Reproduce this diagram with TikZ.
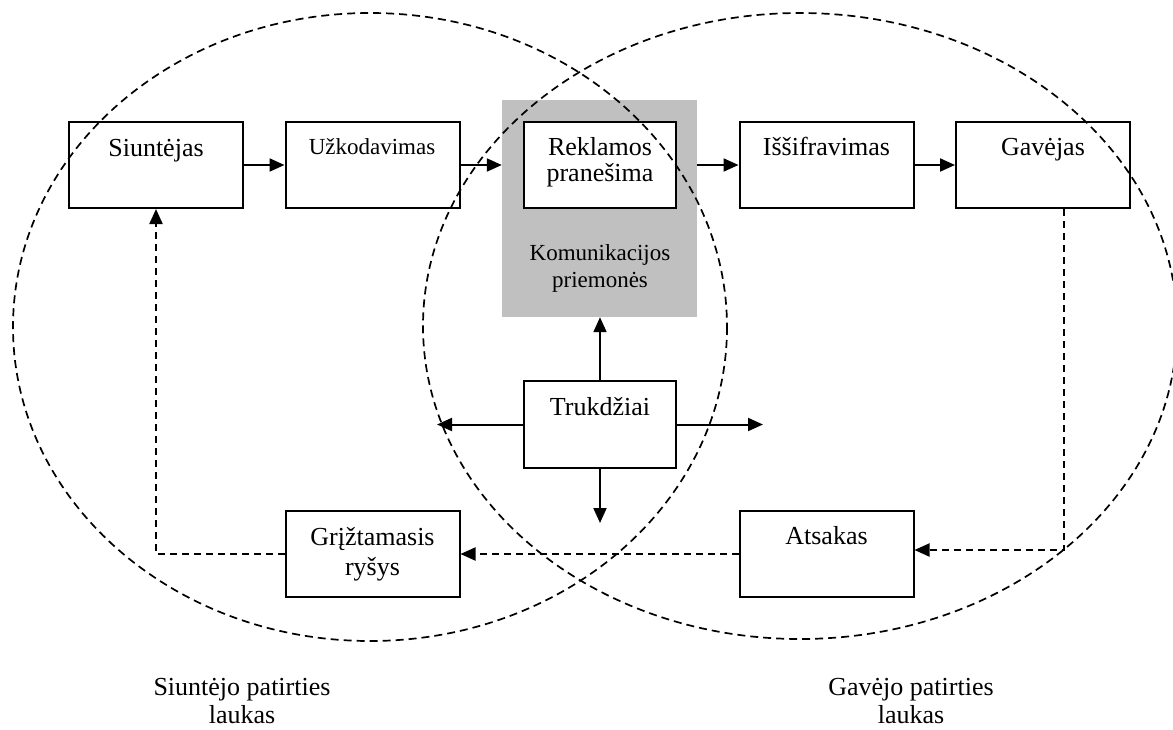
\documentclass[tikz,border=0pt]{standalone}
\usepackage{fontspec}
\setmainfont{Liberation Serif}
\usetikzlibrary{arrows.meta,calc}
\definecolor{mediagray}{RGB}{192,192,192}
\tikzset{
  box/.style={draw, line width=2pt, fill=white, minimum width=174pt,
    minimum height=86pt, inner sep=0pt},
  lbl/.style={anchor=base, inner sep=0pt, align=center,
    font=\fontsize{26}{26}\selectfont},
  lblsmall/.style={lbl, font=\fontsize{23}{27}\selectfont},
  flow/.style={line width=2pt, -{Triangle[length=15pt,width=13pt]}},
  back/.style={flow, dash pattern=on 7pt off 5pt},
  field/.style={line width=1.7pt, dash pattern=on 8pt off 5pt},
}
\begin{document}
\begin{tikzpicture}[x=1pt,y=-1pt]
\useasboundingbox (0,0) rectangle (1173,729);

% communication medium block
\node[fill=mediagray, minimum width=195pt, minimum height=217pt, inner sep=0pt]
  (m) at (599.5,208.5) {};

% boxes
\node[box] (s) at (156,165) {};
\node[box] (u) at (372.5,165) {};
\node[box, minimum width=152pt] (r) at (600,165) {};
\node[box] (i) at (826.5,165) {};
\node[box] (g) at (1043,165) {};
\node[box, minimum width=152pt, minimum height=87pt] (t) at (600,424.5) {};
\node[box] (f) at (372.5,554) {};
\node[box] (a) at (826.5,554) {};

% labels (multi-line labels sit on the baseline of their last line)
\node[lbl] (sl) at (156,156) {Siuntėjas};
\node[lblsmall] (ul) at (372,154) {Užkodavimas};
\node[lbl] (rl) at (600,181) {Reklamos\\pranešima};
\node[lblsmall] (ml) at (600,287) {Komunikacijos\\priemonės};
\node[lbl] (il) at (826.5,155) {Iššifravimas};
\node[lbl] (gl) at (1043,155) {Gavėjas};
\node[lbl] (tl) at (600,415) {Trukdžiai};
\node[lbl, font=\fontsize{26}{30}\selectfont] (fl) at (372.5,575) {Grįžtamasis\\ryšys};
\node[lbl] (al) at (826.5,544) {Atsakas};
\node[lbl, font=\fontsize{26}{28}\selectfont] (sfl) at (242,723) {Siuntėjo patirties\\laukas};
\node[lbl, font=\fontsize{26}{28}\selectfont] (gfl) at (911,723) {Gavėjo patirties\\laukas};

% message flow
\draw[flow] (s.east) -- (u.west);
\draw[flow] (u.east) -- (u.east -| m.west);
\draw[flow] (m.east |- i.west) -- (i.west);
\draw[flow] (i.east) -- (g.west);

% noise
\coordinate (nl) at ($(t.west)+(-86,0)$);
\coordinate (nr) at ($(t.east)+(86,0)$);
\coordinate (nd) at ($(t.south)+(0,54)$);
\draw[flow] (t.north) -- (t.north |- m.south);
\draw[flow] (t.west) -- (nl);
\draw[flow] (t.east) -- (nr);
\draw[flow] (t.south) -- (nd);

% response and feedback
\coordinate (k) at (1064,550);
\draw[back] (g.south -| k) -- (k) -- (a.east |- k);
\draw[back] (a.west) -- (f.east);
\draw[back] (f.west) -| (s.south);

% fields of experience
\draw[field] (370,327) ellipse [x radius=357, y radius=314];
\draw[field] (800,326) ellipse [x radius=377, y radius=313];
\end{tikzpicture}
\end{document}
